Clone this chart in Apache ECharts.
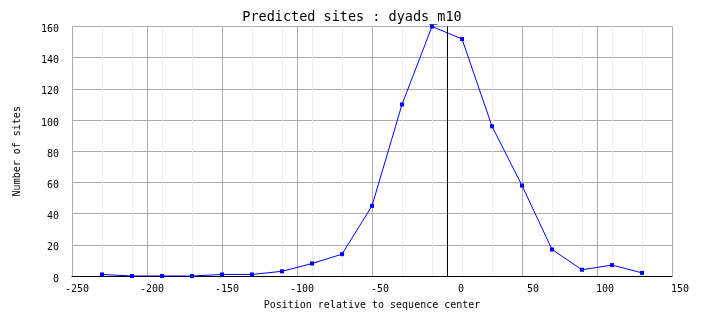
<!DOCTYPE html>
<html>
<head>
<meta charset="utf-8">
<script src="https://cdn.jsdelivr.net/npm/echarts@6/dist/echarts.min.js"></script>
<style>
  html, body { margin: 0; padding: 0; background: #fff; }
  #main { width: 704px; height: 328px; }
</style>
</head>
<body>
<div id="main"></div>
<script>
  // positions relative to sequence center
  var positions = [-230, -210, -190, -170, -150, -130, -110, -90, -70, -50, -30, -10, 10, 30, 50, 70, 90, 110, 130];
  // number of sites at each position
  var sites = [1, 0, 0, 0, 1, 1, 3, 8, 14, 45, 110, 160, 152, 96, 58, 17, 4, 7, 2];

  var xMin = -250, xMax = 150, xStep = 50;
  var yMin = 0, yMax = 160, yStep = 20;

  var font = 'DejaVu Sans Mono';

  var chart = echarts.init(document.getElementById('main'));

  var option = {
    animation: false,
    backgroundColor: '#fff',
    title: {
      text: 'Predicted sites : dyads_m10',
      left: 'center',
      top: 5,
      textStyle: { fontFamily: font, fontSize: 13.5, fontWeight: 'normal', color: '#000' }
    },
    grid: { left: 72, right: 32, top: 26.5, bottom: 52 },
    xAxis: [
      {
        // main axis, labels and major grid
        type: 'value',
        min: xMin, max: xMax, interval: xStep,
        z: 2,
        name: 'Position relative to sequence center',
        nameLocation: 'middle',
        nameGap: 24,
        nameTextStyle: { fontFamily: font, fontSize: 10, color: '#000' },
        axisLine: { show: true, onZero: false, lineStyle: { color: '#000', width: 1 } },
        axisTick: { show: false },
        axisLabel: {
          margin: 8,
          formatter: function (v) { return '{a|' + v + '}'; },
          rich: { a: { width: 34, align: 'right', fontFamily: font, fontSize: 10, color: '#000' } }
        },
        splitLine: { show: true, lineStyle: { color: '#aaa', width: 1 } }
      },
      {
        // minor grid at the sample positions
        type: 'value',
        min: xMin, max: xMax, interval: 20,
        position: 'bottom',
        z: 0,
        axisLine: { show: false },
        axisTick: { show: false },
        axisLabel: { show: false },
        splitLine: { show: true, lineStyle: { color: '#eee', width: 1 } }
      }
    ],
    yAxis: {
      type: 'value',
      min: yMin, max: yMax, interval: yStep,
      name: 'Number of sites',
      nameLocation: 'middle',
      nameGap: 50,
      nameTextStyle: { fontFamily: font, fontSize: 10, color: '#000' },
      axisLine: { show: true, lineStyle: { color: '#000', width: 1 } },
      axisTick: { show: false },
      axisLabel: {
        margin: 13,
        formatter: function (v) { return '{a|' + v + '}'; },
        rich: { a: { padding: [6, 0, 0, 0], fontFamily: font, fontSize: 10, color: '#000' } }
      },
      splitLine: { show: true, lineStyle: { color: '#aaa', width: 1 } }
    },
    series: [
      {
        type: 'line',
        xAxisIndex: 0,
        data: positions.map(function (p, i) { return [p, sites[i]]; }),
        symbol: 'rect',
        symbolSize: 4,
        showAllSymbol: true,
        lineStyle: { color: '#0000ff', width: 1 },
        itemStyle: { color: '#0000ff' },
        markLine: {
          silent: true,
          symbol: 'none',
          label: { show: false },
          lineStyle: { color: '#000', width: 1, type: 'solid' },
          data: [{ xAxis: 0 }]
        },
        z: 3
      }
    ]
  };

  chart.setOption(option);
</script>
</body>
</html>
